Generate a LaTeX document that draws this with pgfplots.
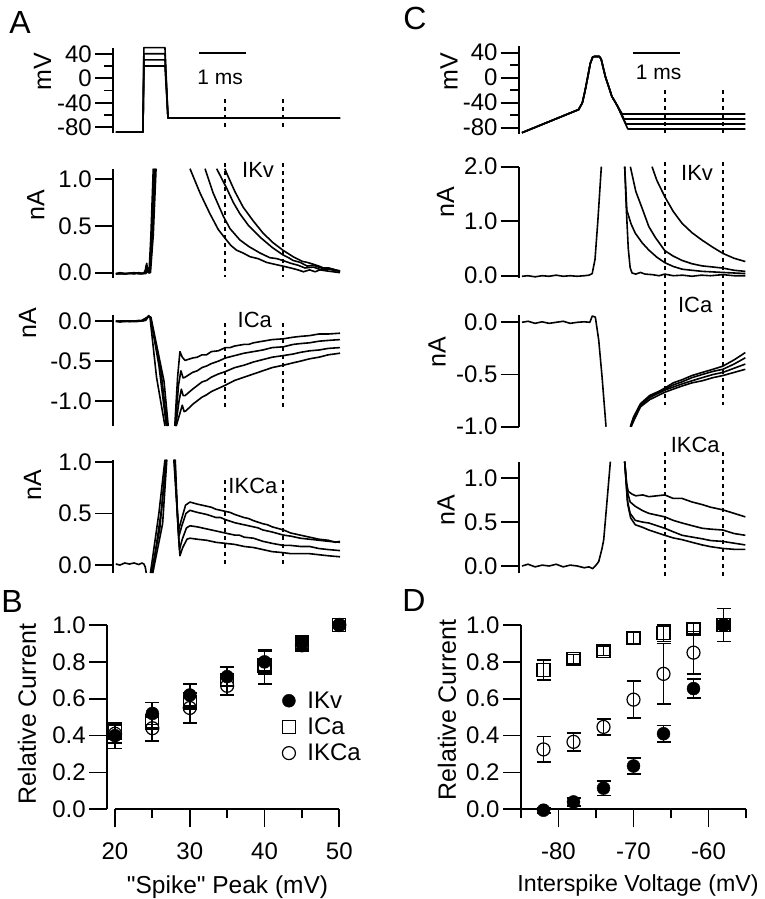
\documentclass[border=0pt]{standalone}
\usepackage{pgfplots}
\pgfplotsset{compat=1.18}
\usepackage{fontspec}
\setmainfont{Liberation Sans}
\newfontfamily\qfont{Liberation Sans}[Ligatures=TeXOff]
\newcommand{\fs}[1]{\fontsize{#1}{#1}\selectfont}
\tikzset{dsh/.style={black, line width=2pt, dash pattern=on 4pt off 4pt}}
\pgfplotsset{
  trace/.style={scale only axis, enlargelimits=false, clip=false,
    axis x line=none, axis y line=left, axis line style={-, line width=1.8pt},
    tick align=outside, major tick length=18pt, minor tick length=9pt,
    tick style={line width=1.8pt, black},
    yticklabel style={font=\fs{24}, inner sep=3pt},
    xmin=0, xtick=\empty, anchor=south west},
  tr/.style={black, line width=1.6pt, no marks, line join=round},
  sc/.style={scale only axis, enlargelimits=false, clip=false, anchor=south west,
    width=232pt, height=184.3pt, ymin=0, ymax=1,
    axis x line=bottom, axis y line=left, axis line style={-, line width=1.8pt},
    tick align=outside, major tick length=18pt, minor tick length=9pt,
    tick style={line width=1.8pt, black},
    ytick={0,0.2,0.4,0.6,0.8,1}, yticklabels={0.0,0.2,0.4,0.6,0.8,1.0},
    ticklabel style={font=\fs{24}},
    xticklabel style={yshift=-12pt},
    error bars/error bar style={line width=1.8pt},
    error bars/error mark options={rotate=90, mark size=7pt, line width=1.8pt}},
  kv/.style={black, only marks, mark=*, mark size=6.5pt, mark options={fill=black},
    error bars/.cd, y dir=both, y explicit},
  ca/.style={black, only marks, mark=square, mark size=6.5pt, mark options={line width=1.2pt},
    error bars/.cd, y dir=both, y explicit},
  kca/.style={black, only marks, mark=o, mark size=6.5pt, mark options={line width=1.2pt},
    error bars/.cd, y dir=both, y explicit},
}
\begin{document}
\begin{tikzpicture}
\useasboundingbox (0,0) rectangle (764pt,-899pt);

% ================= Panel A =================
\begin{axis}[trace, at={(113pt,-133.4pt)}, width=227pt, height=85.75pt, xmax=4.85,
  ymin=-90, ymax=50, ytick={-80,-40,0,40}, yticklabels={-80,-40,0,40}, minor ytick={-60,-20,20}]
\addplot[tr] coordinates {(0.06,-88)(0.64,-88)(0.66,20)(1.11,20)(1.175,-65)(4.85,-65)};
\addplot[tr] coordinates {(0.06,-88)(0.64,-88)(0.66,30)(1.11,30)(1.175,-65)(4.85,-65)};
\addplot[tr] coordinates {(0.06,-88)(0.64,-88)(0.66,40)(1.11,40)(1.175,-65)(4.85,-65)};
\addplot[tr] coordinates {(0.06,-88)(0.64,-88)(0.66,50)(1.11,50)(1.175,-65)(4.85,-65)};
\draw[line width=1.6pt] (axis cs:1.84,41.3) -- (axis cs:2.84,41.3);
\node[font=\fs{21}] at (axis cs:2.29,2) {1 ms};
\draw[dsh] (axis cs:2.40,-34) -- (axis cs:2.40,-83);
\draw[dsh] (axis cs:3.64,-34) -- (axis cs:3.64,-83);
\end{axis}

\begin{axis}[trace, at={(113pt,-278.3pt)}, width=227pt, height=109.6pt, xmax=4.85,
  ymin=-0.06, ymax=1.11, ytick={0,0.5,1}, yticklabels={0.0,0.5,1.0}]
\addplot[tr] coordinates {(0.06,-0.01)(0.15,0.0)(0.25,-0.015)(0.35,-0.005)(0.45,-0.012)(0.55,0.0)(0.65,-0.01)(0.70,0.03)(0.72,0.10)(0.74,0.03)(0.77,0.0)(0.81,0.4)(0.86,1.11)};
\addplot[tr] coordinates {(0.06,-0.015)(0.2,-0.005)(0.3,-0.01)(0.45,0.0)(0.6,-0.012)(0.68,0.0)(0.71,0.08)(0.75,0.0)(0.78,0.0)(0.83,0.4)(0.88,1.11)};
\addplot[tr] coordinates {(0.06,-0.01)(0.2,-0.012)(0.4,-0.005)(0.6,-0.01)(0.70,0.0)(0.73,0.06)(0.76,0.0)(0.79,0.0)(0.845,0.4)(0.90,1.11)};
\addplot[tr] coordinates {(0.06,-0.01)(0.3,-0.01)(0.5,-0.008)(0.7,-0.01)(0.74,0.04)(0.78,0.0)(0.80,0.0)(0.86,0.4)(0.92,1.11)};
\addplot[tr] coordinates {(1.645,1.11)(1.86,0.85)(2.07,0.63)(2.25,0.46)(2.39,0.37)(2.52,0.29)(2.64,0.24)(2.78,0.21)(2.93,0.17)(3.1,0.15)(3.28,0.11)(3.45,0.09)(3.63,0.07)(3.8,0.05)(3.95,0.03)(4.07,0.01)(4.2,0.03)(4.32,0.01)(4.42,0.03)(4.55,0.02)(4.7,0.01)(4.85,0.0)};
\addplot[tr] coordinates {(1.966,1.11)(2.14,0.85)(2.36,0.60)(2.5,0.47)(2.71,0.35)(2.9,0.28)(3.14,0.21)(3.35,0.16)(3.5,0.15)(3.63,0.13)(3.8,0.10)(3.95,0.08)(4.1,0.05)(4.28,0.06)(4.45,0.03)(4.6,0.04)(4.75,0.02)(4.85,0.02)};
\addplot[tr] coordinates {(2.215,1.11)(2.43,0.90)(2.57,0.75)(2.71,0.63)(2.9,0.50)(3.14,0.38)(3.4,0.27)(3.63,0.19)(3.75,0.16)(3.85,0.13)(4.0,0.11)(4.15,0.07)(4.28,0.08)(4.45,0.05)(4.6,0.05)(4.75,0.03)(4.85,0.02)};
\addplot[tr] coordinates {(2.39,1.11)(2.43,1.06)(2.6,0.87)(2.78,0.70)(3.0,0.55)(3.21,0.42)(3.42,0.32)(3.63,0.24)(3.85,0.17)(4.05,0.12)(4.15,0.11)(4.28,0.09)(4.4,0.07)(4.5,0.05)(4.6,0.05)(4.75,0.03)(4.85,0.01)};
\node[font=\fs{22}] at (axis cs:3.10,1.10) {IKv};
\draw[dsh] (axis cs:2.40,1.17) -- (axis cs:2.40,-0.05);
\draw[dsh] (axis cs:3.64,1.17) -- (axis cs:3.64,-0.05);
\end{axis}

\begin{axis}[trace, at={(113pt,-426pt)}, width=227pt, height=110.8pt, xmax=4.85,
  ymin=-1.31, ymax=0.075, ytick={-1,-0.5,0}, yticklabels={-1.0,-0.5,0.0}]
\addplot[tr] coordinates {(0.06,0.0)(0.15,-0.01)(0.25,0.005)(0.35,-0.005)(0.45,0.0)(0.55,0.01)(0.65,0.005)(0.72,0.03)(0.76,0.07)(0.79,0.05)(0.93,-0.70)(1.11,-1.31)};
\addplot[tr] coordinates {(0.06,0.0)(0.2,-0.005)(0.4,0.0)(0.6,0.005)(0.74,0.05)(0.80,0.05)(0.98,-0.55)(1.14,-1.31)};
\addplot[tr] coordinates {(0.06,0.0)(0.3,0.0)(0.5,-0.005)(0.7,0.01)(0.75,0.06)(0.80,0.05)(1.03,-0.65)(1.16,-1.31)};
\addplot[tr] coordinates {(0.06,0.0)(0.3,0.005)(0.6,0.0)(0.76,0.06)(0.81,0.05)(1.09,-0.75)(1.18,-1.31)};
\addplot[tr] coordinates {(1.32,-1.31)(1.38,-0.7)(1.43,-0.38)(1.48,-0.45)(1.54,-0.49)(1.7,-0.46)(1.8,-0.45)(1.9,-0.42)(2.0,-0.42)(2.1,-0.38)(2.25,-0.37)(2.4,-0.33)(2.5,-0.33)(2.6,-0.31)(2.8,-0.29)(2.9,-0.29)(3.0,-0.27)(3.2,-0.25)(3.4,-0.23)(3.64,-0.22)(3.85,-0.20)(4.0,-0.19)(4.2,-0.18)(4.4,-0.16)(4.6,-0.16)(4.85,-0.15)};
\addplot[tr] coordinates {(1.33,-1.31)(1.40,-0.8)(1.45,-0.62)(1.50,-0.71)(1.54,-0.70)(1.7,-0.64)(1.8,-0.62)(1.9,-0.58)(2.0,-0.56)(2.1,-0.53)(2.25,-0.50)(2.4,-0.46)(2.6,-0.43)(2.8,-0.40)(3.0,-0.38)(3.2,-0.36)(3.4,-0.33)(3.64,-0.32)(3.85,-0.29)(4.0,-0.28)(4.2,-0.27)(4.4,-0.25)(4.6,-0.24)(4.85,-0.23)};
\addplot[tr] coordinates {(1.34,-1.31)(1.41,-1.0)(1.46,-0.85)(1.50,-0.93)(1.54,-0.93)(1.7,-0.85)(1.9,-0.76)(2.0,-0.74)(2.1,-0.70)(2.25,-0.66)(2.4,-0.63)(2.6,-0.58)(2.8,-0.55)(3.0,-0.51)(3.2,-0.48)(3.4,-0.45)(3.64,-0.43)(3.85,-0.41)(4.0,-0.39)(4.2,-0.37)(4.4,-0.36)(4.6,-0.34)(4.85,-0.33)};
\addplot[tr] coordinates {(1.35,-1.31)(1.43,-1.15)(1.48,-1.05)(1.52,-1.13)(1.56,-1.12)(1.7,-1.04)(1.9,-0.95)(2.0,-0.92)(2.1,-0.88)(2.25,-0.84)(2.4,-0.80)(2.6,-0.74)(2.8,-0.70)(3.0,-0.66)(3.2,-0.62)(3.4,-0.58)(3.64,-0.55)(3.85,-0.52)(4.0,-0.50)(4.2,-0.47)(4.4,-0.45)(4.6,-0.42)(4.85,-0.40)};
\node[font=\fs{22}] at (axis cs:3.03,0.01) {ICa};
\draw[dsh] (axis cs:2.40,-0.02) -- (axis cs:2.40,-1.07);
\draw[dsh] (axis cs:3.64,-0.02) -- (axis cs:3.64,-1.07);
\end{axis}

\begin{axis}[trace, at={(113pt,-573pt)}, width=227pt, height=113.3pt, xmax=4.85,
  ymin=-0.077, ymax=1.02, ytick={0,0.5,1}, yticklabels={0.0,0.5,1.0}]
\addplot[tr] coordinates {(0.06,0.01)(0.15,0.0)(0.25,0.02)(0.35,0.01)(0.45,0.02)(0.55,0.005)(0.62,0.02)(0.66,0.01)(0.69,-0.02)(0.71,-0.077)};
\addplot[tr] coordinates {(0.80,-0.077)(0.98,0.5)(1.11,1.02)};
\addplot[tr] coordinates {(0.82,-0.077)(1.00,0.35)(1.13,1.02)};
\addplot[tr] coordinates {(0.84,-0.077)(1.04,0.55)(1.14,1.02)};
\addplot[tr] coordinates {(0.85,-0.077)(1.06,0.4)(1.15,1.02)};
\addplot[tr] coordinates {(1.30,1.02)(1.36,0.6)(1.40,0.34)(1.45,0.42)(1.55,0.58)(1.645,0.61)(1.8,0.59)(2.0,0.57)(2.1,0.56)(2.2,0.54)(2.4,0.52)(2.5,0.51)(2.6,0.49)(2.8,0.46)(2.9,0.45)(3.0,0.43)(3.2,0.40)(3.3,0.39)(3.4,0.37)(3.64,0.34)(3.8,0.31)(4.0,0.29)(4.2,0.27)(4.4,0.25)(4.6,0.24)(4.75,0.22)(4.85,0.23)};
\addplot[tr] coordinates {(1.31,1.02)(1.37,0.55)(1.41,0.28)(1.47,0.38)(1.56,0.50)(1.645,0.53)(1.8,0.51)(2.0,0.49)(2.2,0.46)(2.3,0.46)(2.4,0.44)(2.6,0.41)(2.8,0.39)(3.0,0.37)(3.1,0.36)(3.2,0.34)(3.4,0.32)(3.64,0.29)(3.8,0.28)(4.0,0.26)(4.2,0.25)(4.4,0.24)(4.6,0.23)(4.85,0.22)};
\addplot[tr] coordinates {(1.32,1.02)(1.38,0.45)(1.42,0.15)(1.48,0.25)(1.57,0.36)(1.645,0.38)(1.8,0.37)(2.0,0.35)(2.2,0.33)(2.4,0.31)(2.6,0.29)(2.7,0.29)(2.8,0.27)(3.0,0.26)(3.2,0.23)(3.4,0.21)(3.64,0.19)(3.8,0.19)(4.0,0.18)(4.2,0.18)(4.4,0.16)(4.6,0.15)(4.85,0.14)};
\addplot[tr] coordinates {(1.33,1.02)(1.39,0.35)(1.43,0.09)(1.49,0.17)(1.58,0.25)(1.645,0.26)(1.8,0.25)(2.0,0.24)(2.2,0.22)(2.4,0.21)(2.6,0.20)(2.8,0.18)(3.0,0.17)(3.2,0.15)(3.4,0.13)(3.64,0.12)(3.8,0.11)(4.0,0.11)(4.2,0.11)(4.4,0.10)(4.6,0.09)(4.85,0.08)};
\node[font=\fs{22}] at (axis cs:2.99,0.77) {IKCa};
\draw[dsh] (axis cs:2.40,0.82) -- (axis cs:2.40,-0.03);
\draw[dsh] (axis cs:3.64,0.82) -- (axis cs:3.64,-0.03);
\end{axis}

% ================= Panel C =================
\begin{axis}[trace, at={(518.7pt,-133.95pt)}, width=226.6pt, height=87.5pt, xmax=4.84,
  ymin=-90, ymax=50, ytick={-80,-40,0,40}, yticklabels={-80,-40,0,40}, minor ytick={-60,-20,20}]
\addplot[tr] coordinates {(0.07,-88)(1.28,-51)(1.36,-40)(1.42,-20)(1.53,23)(1.58,33)(1.62,34)(1.72,34)(1.76,30)(1.85,2)(1.99,-30)(2.10,-44)(2.21,-58)(4.84,-58)};
\addplot[tr] coordinates {(0.07,-88)(1.28,-51)(1.36,-40)(1.42,-20)(1.53,23)(1.58,33)(1.62,34)(1.72,34)(1.76,30)(1.85,2)(1.99,-30)(2.10,-44)(2.25,-66)(4.84,-66)};
\addplot[tr] coordinates {(0.07,-88)(1.28,-51)(1.36,-40)(1.42,-20)(1.53,23)(1.58,33)(1.62,34)(1.72,34)(1.76,30)(1.85,2)(1.99,-30)(2.10,-44)(2.29,-74)(4.84,-74)};
\addplot[tr] coordinates {(0.07,-88)(1.28,-51)(1.36,-40)(1.42,-20)(1.53,23)(1.58,33)(1.62,34)(1.72,34)(1.76,30)(1.85,2)(1.99,-30)(2.10,-44)(2.33,-82)(4.84,-82)};
\draw[line width=1.6pt] (axis cs:2.44,40) -- (axis cs:3.44,40);
\node[font=\fs{21}] at (axis cs:2.99,8) {1 ms};
\draw[dsh] (axis cs:3.12,-20) -- (axis cs:3.12,-88);
\draw[dsh] (axis cs:4.36,-20) -- (axis cs:4.36,-88);
\end{axis}

\begin{axis}[trace, at={(518.7pt,-277.9pt)}, width=226.6pt, height=111.2pt, xmax=4.84,
  ymin=-0.04, ymax=2.0, ytick={0,1,2}, yticklabels={0.0,1.0,2.0}]
\addplot[tr] coordinates {(0.07,-0.01)(0.2,0.0)(0.35,-0.02)(0.5,0.0)(0.65,-0.01)(0.8,0.01)(0.95,-0.01)(1.1,0.0)(1.25,-0.01)(1.4,0.0)(1.5,0.01)(1.57,0.04)(1.63,0.3)(1.69,1.0)(1.765,2.0)};
\addplot[tr] coordinates {(2.264,2.0)(2.30,1.2)(2.34,0.5)(2.38,0.15)(2.42,0.05)(2.5,0.03)(2.6,0.06)(2.7,0.03)(2.85,0.02)(3.0,0.0)(3.12,0.03)(3.3,0.0)(3.5,0.01)(3.7,-0.01)(3.9,0.01)(4.1,0.0)(4.36,0.02)(4.6,0.0)(4.84,0.0)};
\addplot[tr] coordinates {(2.264,2.0)(2.31,1.2)(2.40,0.95)(2.49,0.78)(2.64,0.60)(2.78,0.47)(2.95,0.34)(3.12,0.24)(3.3,0.17)(3.49,0.12)(3.7,0.10)(3.92,0.08)(4.15,0.07)(4.36,0.06)(4.6,0.05)(4.84,0.04)};
\addplot[tr] coordinates {(2.385,2.0)(2.50,1.55)(2.635,1.24)(2.78,0.90)(2.92,0.70)(3.12,0.46)(3.3,0.36)(3.49,0.28)(3.7,0.22)(3.92,0.18)(4.15,0.16)(4.36,0.14)(4.6,0.10)(4.84,0.08)};
\addplot[tr] coordinates {(2.848,2.0)(2.95,1.75)(3.12,1.45)(3.3,1.18)(3.49,0.96)(3.7,0.79)(3.92,0.65)(4.15,0.52)(4.36,0.41)(4.6,0.32)(4.84,0.26)};
\node[font=\fs{22}] at (axis cs:3.81,1.88) {IKv};
\draw[dsh] (axis cs:3.12,2.09) -- (axis cs:3.12,-2.37);
\draw[dsh] (axis cs:4.36,2.09) -- (axis cs:4.36,-2.37);
\end{axis}

\begin{axis}[trace, at={(518.7pt,-426.7pt)}, width=226.6pt, height=111.7pt, xmax=4.84,
  ymin=-1.0, ymax=0.07, ytick={-1,-0.5,0}, yticklabels={-1.0,-0.5,0.0}]
\addplot[tr] coordinates {(0.07,0.0)(0.2,0.01)(0.35,-0.01)(0.5,0.005)(0.65,-0.01)(0.8,0.0)(0.95,0.01)(1.1,-0.01)(1.25,0.0)(1.4,0.005)(1.52,0.0)(1.57,0.06)(1.637,0.05)(1.709,-0.17)(1.78,-0.52)(1.865,-1.0)};
\addplot[tr] coordinates {(2.385,-1.0)(2.45,-0.91)(2.60,-0.78)(2.8,-0.70)(3.0,-0.66)(3.12,-0.63)(3.3,-0.58)(3.49,-0.55)(3.7,-0.51)(3.92,-0.48)(4.15,-0.45)(4.36,-0.42)(4.6,-0.36)(4.84,-0.29)};
\addplot[tr] coordinates {(2.39,-1.0)(2.45,-0.92)(2.60,-0.79)(2.8,-0.71)(2.9,-0.69)(3.12,-0.64)(3.3,-0.60)(3.49,-0.57)(3.7,-0.53)(3.92,-0.50)(4.15,-0.47)(4.36,-0.45)(4.6,-0.40)(4.84,-0.34)};
\addplot[tr] coordinates {(2.40,-1.0)(2.46,-0.93)(2.60,-0.80)(2.8,-0.72)(3.12,-0.65)(3.3,-0.62)(3.49,-0.59)(3.7,-0.56)(3.92,-0.53)(4.15,-0.50)(4.36,-0.48)(4.6,-0.44)(4.84,-0.40)};
\addplot[tr] coordinates {(2.40,-1.0)(2.46,-0.94)(2.60,-0.81)(2.8,-0.74)(3.12,-0.67)(3.3,-0.64)(3.49,-0.61)(3.7,-0.58)(3.92,-0.56)(4.15,-0.53)(4.36,-0.51)(4.6,-0.48)(4.84,-0.45)};
\node[font=\fs{22}] at (axis cs:3.77,0.17) {ICa};
\end{axis}

\begin{axis}[trace, at={(518.7pt,-573pt)}, width=226.6pt, height=111.4pt, xmax=4.84,
  ymin=-0.08, ymax=1.19, ytick={0,0.5,1}, yticklabels={0.0,0.5,1.0}]
\addplot[tr] coordinates {(0.07,0.0)(0.2,0.02)(0.35,-0.01)(0.5,0.01)(0.65,0.0)(0.8,0.02)(0.95,-0.01)(1.1,0.01)(1.25,0.0)(1.4,-0.02)(1.5,-0.01)(1.58,-0.03)(1.637,0.0)(1.709,0.05)(1.78,0.2)(1.816,0.3)(1.88,0.7)(1.958,1.19)};
\addplot[tr] coordinates {(2.264,1.19)(2.30,0.95)(2.34,0.85)(2.42,0.82)(2.5,0.80)(2.65,0.81)(2.78,0.79)(2.95,0.80)(3.12,0.81)(3.3,0.77)(3.49,0.77)(3.7,0.73)(3.92,0.70)(4.1,0.67)(4.36,0.64)(4.6,0.60)(4.84,0.56)};
\addplot[tr] coordinates {(2.264,1.19)(2.32,0.85)(2.38,0.73)(2.49,0.68)(2.65,0.63)(2.78,0.60)(2.95,0.58)(3.12,0.56)(3.3,0.52)(3.49,0.49)(3.7,0.46)(3.92,0.43)(4.1,0.42)(4.36,0.41)(4.6,0.37)(4.84,0.35)};
\addplot[tr] coordinates {(2.264,1.19)(2.32,0.75)(2.38,0.60)(2.49,0.52)(2.65,0.50)(2.78,0.49)(2.95,0.46)(3.12,0.43)(3.3,0.39)(3.49,0.35)(3.7,0.33)(3.92,0.31)(4.1,0.29)(4.36,0.28)(4.6,0.26)(4.84,0.24)};
\addplot[tr] coordinates {(2.264,1.19)(2.33,0.70)(2.39,0.55)(2.49,0.47)(2.65,0.44)(2.78,0.41)(2.95,0.38)(3.12,0.35)(3.3,0.32)(3.49,0.30)(3.7,0.27)(3.92,0.24)(4.1,0.22)(4.36,0.20)(4.6,0.19)(4.84,0.19)};
\node[font=\fs{22}] at (axis cs:3.77,1.38) {IKCa};
\draw[dsh] (axis cs:3.12,1.30) -- (axis cs:3.12,-0.14);
\draw[dsh] (axis cs:4.36,1.30) -- (axis cs:4.36,-0.14);
\end{axis}

% ================= Panel B =================
\begin{axis}[sc, at={(107.3pt,-809.3pt)}, xmin=18.97, xmax=50,
  x axis line style={shorten <=7.7pt},
  xtick={20,30,40,50}, xticklabels={20,30,40,50}, minor xtick={25,35,45},
  reverse legend, legend cell align=left,
  legend style={at={(0.754,0.65)}, anchor=north west, draw=none, fill=none,
    font=\fs{24}, inner sep=0pt, nodes={inner sep=2pt}, column sep=10pt, row sep=4pt}]
\addplot+[kca] coordinates {(20,0.41) +- (0,0.05) (25,0.44) +- (0,0.07) (30,0.55) +- (0,0.08) (35,0.67) +- (0,0.05) (40,0.77) +- (0,0.09) (45,0.89) +- (0,0.03) (50,1.0) +- (0,0.01)};
\addlegendentry{IKCa}
\addplot+[ca] coordinates {(20,0.42) +- (0,0.04) (25,0.47) +- (0,0.03) (30,0.58) +- (0,0.03) (35,0.70) +- (0,0.03) (40,0.78) +- (0,0.03) (45,0.90) +- (0,0.03) (50,1.0) +- (0,0.01)};
\addlegendentry{ICa}
\addplot+[kv] coordinates {(20,0.40) +- (0,0.07) (25,0.52) +- (0,0.06) (30,0.62) +- (0,0.06) (35,0.72) +- (0,0.05) (40,0.80) +- (0,0.065) (45,0.90) +- (0,0.04) (50,1.0) +- (0,0.01)};
\addlegendentry{IKv}
\end{axis}

% ================= Panel D =================
\begin{axis}[sc, at={(521pt,-809.3pt)}, width=225pt, xmin=-85, xmax=-55,
  xtick={-80,-70,-60}, xticklabels={-80,-70,-60}, minor xtick={-85,-75,-65,-55}]
\addplot+[kca] coordinates {(-82,0.325) +- (0,0.07) (-78,0.366) +- (0,0.05) (-74,0.447) +- (0,0.045) (-70,0.595) +- (0,0.10) (-66,0.735) +- (0,0.165) (-62,0.85) +- (0,0.115) (-58,1.0) +- (0,0.02)};
\addplot+[ca] coordinates {(-82,0.755) +- (0,0.055) (-78,0.815) +- (0,0.025) (-74,0.86) +- (0,0.025) (-70,0.93) +- (0,0.03) (-66,0.955) +- (0,0.045) (-62,0.98) +- (0,0.03) (-58,1.0) +- (0,0.02)};
\addplot+[kv] coordinates {(-82,-0.005) +- (0,0.015) (-78,0.04) +- (0,0.02) (-74,0.115) +- (0,0.04) (-70,0.235) +- (0,0.045) (-66,0.41) +- (0,0.045) (-62,0.655) +- (0,0.05) (-58,1.0) +- (0,0.09)};
\end{axis}

% ================= labels =================
\begin{scope}[every node/.style={font=\fs{25}}]
\node[rotate=90] at (42.5pt,-71.7pt) {mV};
\node[rotate=90] at (35.7pt,-205pt) {nA};
\node[rotate=90] at (27.5pt,-323pt) {nA};
\node[rotate=90] at (32.5pt,-485pt) {nA};
\node[rotate=90] at (449pt,-72pt) {mV};
\node[rotate=90] at (445.5pt,-202pt) {nA};
\node[rotate=90] at (437pt,-352pt) {nA};
\node[rotate=90] at (446pt,-510pt) {nA};
\node[rotate=90] at (27pt,-714pt) {Relative Current};
\node[rotate=90] at (447pt,-710pt) {Relative Current};
\node[anchor=base, font=\qfont\fs{24.5}] at (227.5pt,-893pt) {"Spike" Peak (mV)};
\node[anchor=base, font=\fs{23.2}] at (638pt,-891pt) {Interspike Voltage (mV)};
\end{scope}
\begin{scope}[every node/.style={font=\fs{32}}]
\node at (20pt,-22pt) {A};
\node at (415pt,-18pt) {C};
\node at (12pt,-601pt) {B};
\node at (414pt,-600pt) {D};
\end{scope}
\end{tikzpicture}
\end{document}
